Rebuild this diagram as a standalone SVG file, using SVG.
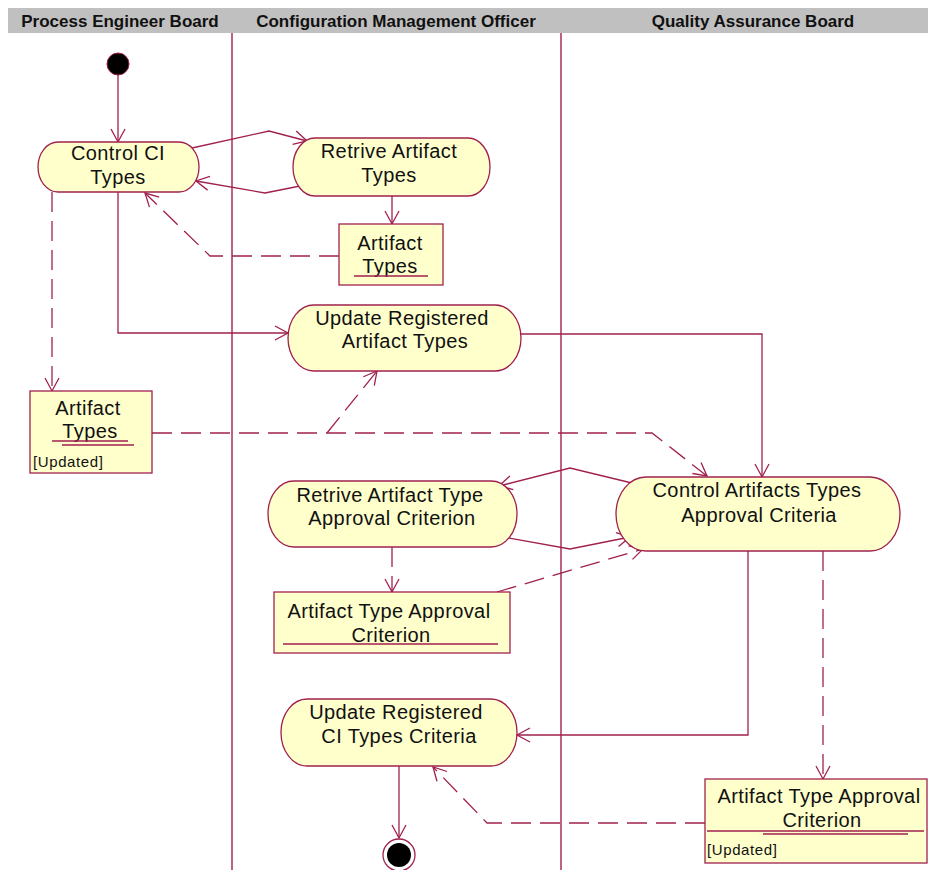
<svg xmlns="http://www.w3.org/2000/svg" width="928" height="870" viewBox="0 0 928 870">
  <style>
    .lane { fill: none; stroke: #a0204f; stroke-width: 1.4; }
    .act { fill: #ffffcc; stroke: #a0204f; stroke-width: 1.3; }
    .obj { fill: #ffffcc; stroke: #a0204f; stroke-width: 1.3; }
    .ul { fill: none; stroke: #a0204f; stroke-width: 1.3; }
    .t { font-family: "Liberation Sans", Arial, sans-serif; font-size: 20px; letter-spacing: 0.4px; fill: #111; text-anchor: middle; }
    .s { font-family: "Liberation Sans", Arial, sans-serif; font-size: 15px; letter-spacing: 0.6px; fill: #111; }
    .h { font-family: "Liberation Sans", Arial, sans-serif; font-size: 17px; font-weight: bold; fill: #111; text-anchor: middle; }
    .flow { fill: none; stroke: #a0204f; stroke-width: 1.3; marker-end: url(#open); }
    .dash { fill: none; stroke: #a0204f; stroke-width: 1.3; stroke-dasharray: 20 9; marker-end: url(#open); }
  </style>
  <defs>
    <marker id="open" markerUnits="userSpaceOnUse" markerWidth="20" markerHeight="20" refX="0" refY="0" viewBox="-15 -10 20 20" orient="auto" overflow="visible">
      <path d="M-13,-7 L0,0 L-13,7" fill="none" stroke="#a0204f" stroke-width="1.3" stroke-dasharray="none"/>
    </marker>
  </defs>

  <rect width="928" height="870" fill="#ffffff"/>

  <!-- swimlane header -->
  <g id="header">
    <rect x="8" y="8" width="920" height="25" fill="#c0c0c0"/>
    <text class="h" x="120" y="27">Process Engineer Board</text>
    <text class="h" x="396" y="27">Configuration Management Officer</text>
    <text class="h" x="753" y="27">Quality Assurance Board</text>
  </g>

  <!-- lane separators -->
  <g id="lanes">
    <line class="lane" x1="232" y1="33" x2="232" y2="870"/>
    <line class="lane" x1="561" y1="33" x2="561" y2="870"/>
  </g>

  <!-- connectors -->
  <g id="connectors">
    <path class="flow" d="M118,75 V142"/>
    <path class="flow" d="M192,148 L269,131 L307,141"/>
    <path class="flow" d="M300,186 L265,193 L196,181"/>
    <path class="flow" d="M392,196 V224"/>
    <path class="dash" d="M339,256 H210 L145,193"/>
    <path class="flow" d="M118,192 V333 H288"/>
    <path class="dash" d="M52,192 V391"/>
    <path class="dash" d="M327,433 L377,371"/>
    <path class="dash" d="M152,433 H652 L707,476"/>
    <path class="flow" d="M521,334 H762 V477"/>
    <path class="flow" d="M636,484 L570,468 L499,486"/>
    <path class="flow" d="M503,537 L570,549 L630,537"/>
    <path class="dash" d="M392,547 V592"/>
    <path class="dash" d="M497,592 L643,549"/>
    <path class="flow" d="M748,551 V735 H517"/>
    <path class="dash" d="M823,551 V779"/>
    <path class="dash" d="M705,823 H487 L433,767"/>
    <path class="flow" d="M399,766 V838"/>
  </g>

  <g id="start">
    <circle cx="118" cy="64" r="11" fill="#000" stroke="#a0204f" stroke-width="1"/>
  </g>

  <g id="control-ci-types">
    <path class="act" d="M58,142 H179 A20,25 0 0 1 179,192 H58 A20,25 0 0 1 58,142 Z"/>
    <text class="t" x="118" y="160">Control CI</text>
    <text class="t" x="118" y="184">Types</text>
  </g>

  <g id="retrive-artifact-types">
    <path class="act" d="M315,138 H468 A22,29 0 0 1 468,196 H315 A22,29 0 0 1 315,138 Z"/>
    <text class="t" x="389" y="158">Retrive Artifact</text>
    <text class="t" x="389" y="182">Types</text>
  </g>

  <g id="artifact-types">
    <rect class="obj" x="339" y="224" width="104" height="61"/>
    <text class="t" x="390" y="250">Artifact</text>
    <text class="t" x="390" y="273">Types</text>
    <line class="ul" x1="354" y1="276" x2="428" y2="276"/>
  </g>

  <g id="update-registered-artifact-types">
    <path class="act" d="M314,305 H495 A26,33 0 0 1 495,371 H314 A26,33 0 0 1 314,305 Z"/>
    <text class="t" x="402" y="325">Update Registered</text>
    <text class="t" x="405" y="348">Artifact Types</text>
  </g>

  <g id="artifact-types-updated">
    <rect class="obj" x="30" y="391" width="122" height="82"/>
    <text class="t" x="88" y="415">Artifact</text>
    <text class="t" x="90" y="438">Types</text>
    <line class="ul" x1="52" y1="441" x2="128" y2="441"/>
    <line class="ul" x1="62" y1="445" x2="134" y2="445"/>
    <text class="s" x="33" y="467">[Updated]</text>
  </g>

  <g id="retrive-approval-criterion">
    <path class="act" d="M294,481 H491 A26,33 0 0 1 491,547 H294 A26,33 0 0 1 294,481 Z"/>
    <text class="t" x="390" y="502">Retrive Artifact Type</text>
    <text class="t" x="392" y="525">Approval Criterion</text>
  </g>

  <g id="control-approval-criteria">
    <path class="act" d="M646,477 H870 A30,37 0 0 1 870,551 H646 A30,37 0 0 1 646,477 Z"/>
    <text class="t" x="757" y="497">Control Artifacts Types</text>
    <text class="t" x="759" y="522">Approval Criteria</text>
  </g>

  <g id="approval-criterion">
    <rect class="obj" x="274" y="592" width="236" height="61"/>
    <text class="t" x="389" y="618">Artifact Type Approval</text>
    <text class="t" x="391" y="642">Criterion</text>
    <line class="ul" x1="283" y1="644" x2="498" y2="644"/>
  </g>

  <g id="update-registered-ci-types">
    <path class="act" d="M307,699 H491 A26,33.5 0 0 1 491,766 H307 A26,33.5 0 0 1 307,699 Z"/>
    <text class="t" x="396" y="719">Update Registered</text>
    <text class="t" x="399" y="743">CI Types Criteria</text>
  </g>

  <g id="approval-criterion-updated">
    <rect class="obj" x="705" y="779" width="222" height="84"/>
    <text class="t" x="819" y="803">Artifact Type Approval</text>
    <text class="t" x="822" y="827">Criterion</text>
    <line class="ul" x1="707" y1="831" x2="924" y2="831"/>
    <line class="ul" x1="763" y1="834" x2="908" y2="834"/>
    <text class="s" x="707" y="855">[Updated]</text>
  </g>

  <g id="end">
    <circle cx="399" cy="855" r="16" fill="#fff" stroke="#a0204f" stroke-width="1.3"/>
    <circle cx="399" cy="855" r="12" fill="#000"/>
  </g>
</svg>
